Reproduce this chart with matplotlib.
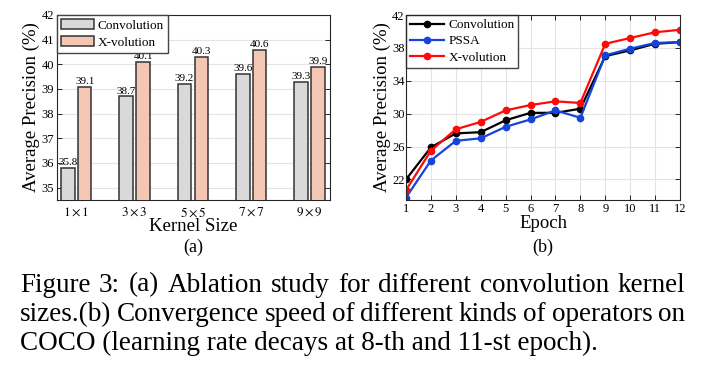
import numpy as np
import matplotlib
matplotlib.use("Agg")
import matplotlib.pyplot as plt

plt.rcParams['font.family'] = ['Liberation Serif', 'DejaVu Serif']
plt.rcParams['mathtext.fontset'] = 'stix'

# data (a) kernel size ablation
kernels = [r'$1\times1$', r'$3\times3$', r'$5\times5$', r'$7\times7$', r'$9\times9$']
conv_ap = [35.8, 38.7, 39.2, 39.6, 39.3]
xvol_ap = [39.1, 40.1, 40.3, 40.6, 39.9]

# data (b) convergence per epoch
epochs = list(range(1, 13))
conv_curve = [22.0, 25.9, 27.6, 27.75, 29.2, 30.1, 30.1, 30.6, 37.0, 37.7, 38.5, 38.7]
pssa_curve = [19.8, 24.3, 26.7, 27.0, 28.4, 29.3, 30.4, 29.5, 37.1, 37.9, 38.6, 38.7]
xvol_curve = [20.7, 25.5, 28.1, 29.0, 30.4, 31.05, 31.5, 31.3, 38.5, 39.2, 39.9, 40.2]

caption = ["Figure 3: (a) Ablation study for different convolution kernel",
           "sizes.(b) Convergence speed of different kinds of operators on",
           "COCO (learning rate decays at 8-th and 11-st epoch)."]

W, H = 705, 369
fig = plt.figure(figsize=(W / 100, H / 100), dpi=100)

axc = '#262626'
gridc = '#e4e4e4'


def style_axes(ax):
    for s in ax.spines.values():
        s.set_color(axc)
        s.set_linewidth(0.8)
    ax.tick_params(direction='in', length=3.5, width=0.7, color=axc,
                   labelsize=9, pad=2, top=True, right=True)


# ---- (a) bars
ax1 = fig.add_axes([57 / W, 1 - 200 / H, 273 / W, 185 / H])
pos = np.arange(1, len(kernels) + 1)
w = 0.23
off = 0.145
b1 = ax1.bar(pos - off, conv_ap, w, color='#d9d9d9',
             edgecolor='#333333', linewidth=1.1, label='Convolution', zorder=3)
b2 = ax1.bar(pos + off, xvol_ap, w, color='#f3c7b3',
             edgecolor='#333333', linewidth=1.1, label='X-volution', zorder=3)
for bars, vals in ((b1, conv_ap), (b2, xvol_ap)):
    for r, v in zip(bars, vals):
        ax1.text(r.get_x() + r.get_width() / 2, v + 0.03, f'{v}',
                 ha='center', va='bottom', fontsize=8, zorder=4)
ax1.set_xlim(0.67, 5.35)
ax1.set_ylim(34.5, 42)
ax1.set_yticks(range(35, 43))
ax1.set_xticks(pos)
ax1.set_xticklabels(kernels)
ax1.yaxis.grid(True, color=gridc, linewidth=0.8, zorder=0)
ax1.set_axisbelow(True)
style_axes(ax1)
ax1.tick_params(axis='x', top=False, bottom=False, pad=4, labelsize=9.5)
ax1.set_xlabel('Kernel Size', fontsize=13.5, labelpad=-1)
ax1.set_ylabel('Average Precision (%)', fontsize=13.5, labelpad=1)
leg1 = ax1.legend(loc='upper left', fontsize=9.5, frameon=True, fancybox=False,
                  borderaxespad=0, handlelength=2.5, handleheight=0.85,
                  labelspacing=0.3, handletextpad=0.3, borderpad=0.3)
leg1.get_frame().set_edgecolor('#444444')
leg1.get_frame().set_linewidth(1.0)
leg1.get_frame().set_alpha(1)

# ---- (b) curves
ax2 = fig.add_axes([406 / W, 1 - 200 / H, 274 / W, 185 / H])
ax2.plot(epochs, conv_curve, '-o', color='black', lw=1.6, ms=4.5, label='Convolution', zorder=3)
ax2.plot(epochs, pssa_curve, '-o', color='#1444d8', lw=1.6, ms=4.5, label='PSSA', zorder=4)
ax2.plot(epochs, xvol_curve, '-o', color='#ff0a0a', lw=1.6, ms=4.5, label='X-volution', zorder=5)
ax2.set_xlim(1, 12)
ax2.set_ylim(19.5, 42)
ax2.set_xticks(epochs)
ax2.set_yticks(range(22, 43, 4))
ax2.grid(True, color=gridc, linewidth=0.8, zorder=0)
ax2.set_axisbelow(True)
style_axes(ax2)
ax2.tick_params(axis='y', pad=1)
ax2.tick_params(axis='x', pad=2)
for s in ax2.spines.values():
    s.set_zorder(6)
ax2.set_xlabel('Epoch', fontsize=13.5, labelpad=0)
ax2.set_ylabel('Average Precision (%)', fontsize=13.5, labelpad=1)
leg2 = ax2.legend(loc='upper left', fontsize=9.5, frameon=True, fancybox=False,
                  borderaxespad=0, handlelength=2.6, labelspacing=0.3,
                  handletextpad=0.3, borderpad=0.3)
leg2.get_frame().set_edgecolor('#444444')
leg2.get_frame().set_linewidth(1.0)
leg2.get_frame().set_alpha(1)

# sub-captions
fig.text(193.5 / W, 1 - 247 / H, '(a)', ha='center', va='center', fontsize=13)
fig.text(543 / W, 1 - 247 / H, '(b)', ha='center', va='center', fontsize=13)

# caption, first two lines justified
cap_fs = 19.5
x0, x1 = 20, 685
line_y = [291.5, 321, 350.5]
renderer = fig.canvas.get_renderer()
for i, line in enumerate(caption):
    y = 1 - line_y[i] / H
    if i == len(caption) - 1:
        fig.text(x0 / W, y, line, ha='left', va='baseline', fontsize=cap_fs)
        continue
    words = line.split(' ')
    objs = [fig.text(0, y, wd, ha='left', va='baseline', fontsize=cap_fs) for wd in words]
    widths = [o.get_window_extent(renderer).width for o in objs]
    gap = (x1 - x0 - sum(widths)) / (len(words) - 1)
    x = x0
    for o, wd in zip(objs, widths):
        o.set_x(x / W)
        x += wd + gap

fig.savefig('out.png', dpi=100)
